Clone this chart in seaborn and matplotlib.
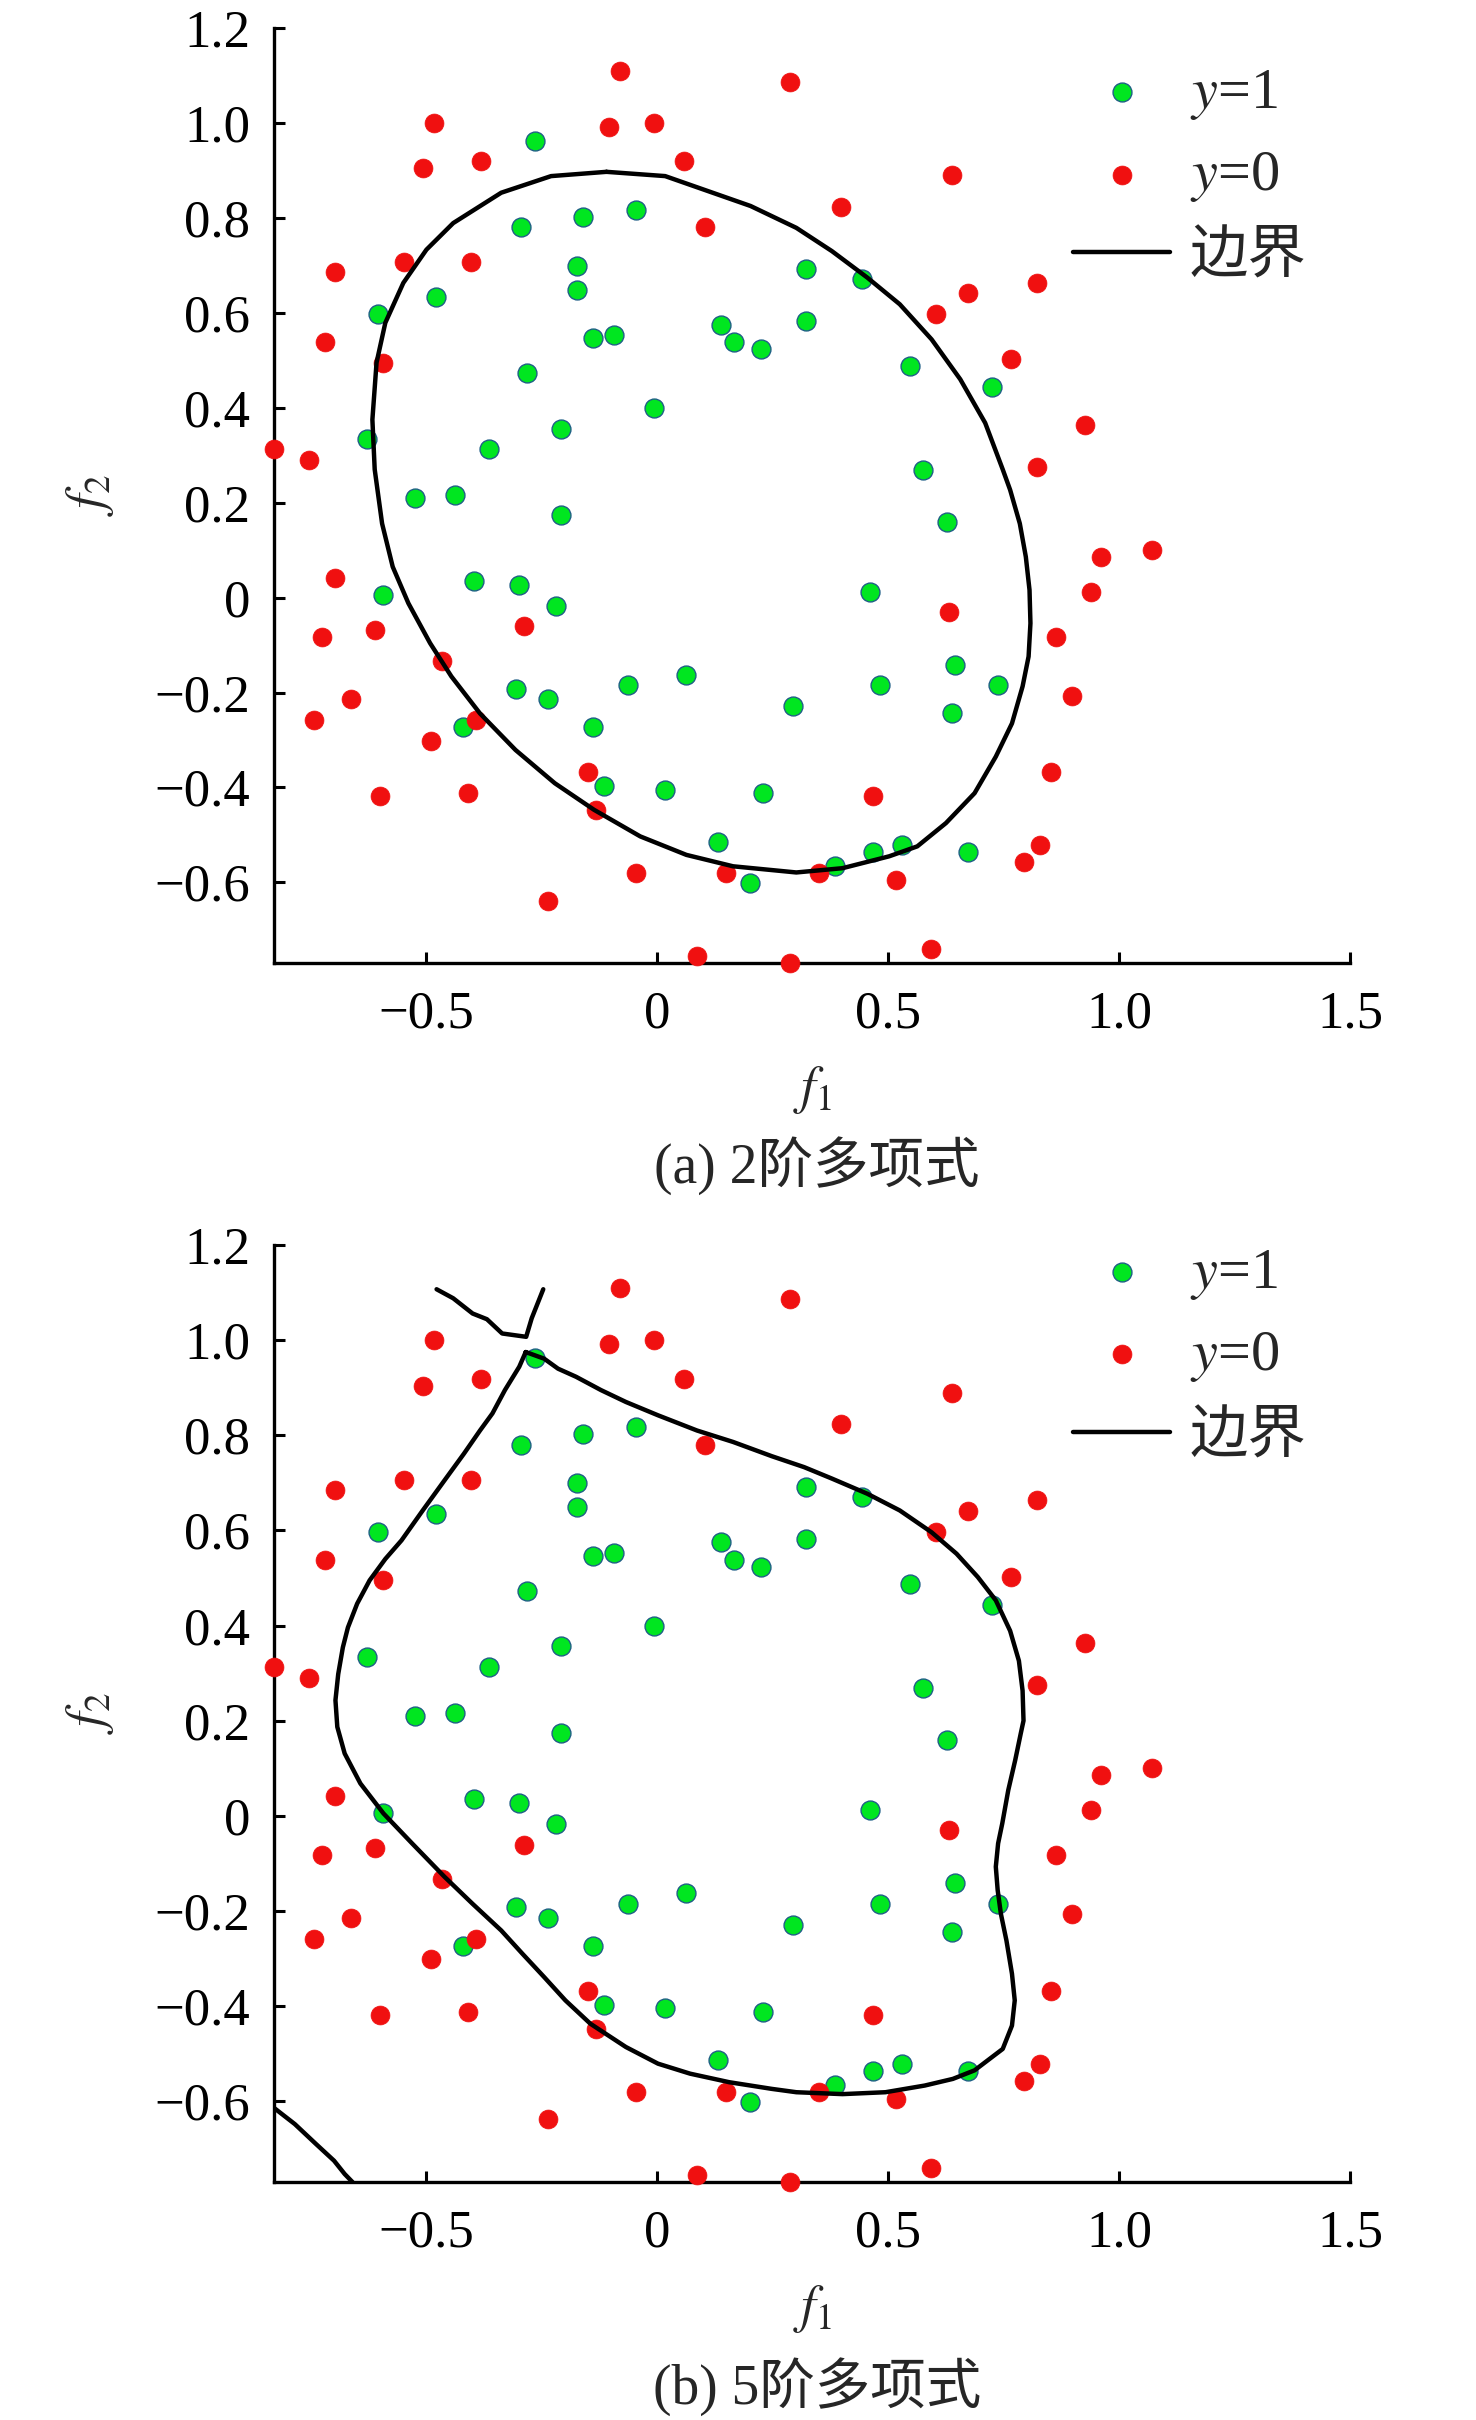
import matplotlib
matplotlib.use("Agg")
import matplotlib.pyplot as plt
import seaborn as sns

# ---------------- data ----------------
pos_f1 = [-0.26555, -0.29435, -0.16187, -0.046659, -0.17339, -0.17339, 0.322, -0.47869,
          -0.60541, 0.322, -0.13882, -0.092742, 0.13767, 0.16647, 0.22408, -0.28283,
          -0.0063364, -0.20795, -0.62846, -0.36348, -0.52477, -0.43836, 0.44297, 0.54666,
          0.72523, 0.57546, -0.20795, -0.59389, -0.39804, -0.30012, -0.21947, -0.30588,
          -0.23675, -0.06394, 0.062788, 0.2932, -0.42108, -0.13882, -0.11578, 0.016705,
          0.22984, 0.13191, 0.20104, 0.6273, 0.46025, 0.64459, 0.48329, 0.73675,
          0.63882, 0.46601, 0.52938, 0.67339, 0.38537]
pos_f2 = [0.96272, 0.77997, 0.8019, 0.81652, 0.69956, 0.64839, 0.69225, 0.63377,
          0.59722, 0.5826, 0.54605, 0.55336, 0.57529, 0.53874, 0.52412, 0.47295,
          0.39985, 0.35599, 0.33406, 0.31213, 0.2098, 0.21711, 0.67032, 0.48757,
          0.44371, 0.26827, 0.17325, 0.005117, 0.034357, 0.027047, -0.016813, -0.19225,
          -0.21418, -0.18494, -0.16301, -0.2288, -0.27266, -0.27266, -0.39693, -0.40424,
          -0.41155, -0.51389, -0.60161, 0.15863, 0.012427, -0.14108, -0.18494, -0.18494,
          -0.24342, -0.53582, -0.5212, -0.53582, -0.56506]

neg_f1 = [-0.081797, 0.28744, -0.48445, -0.10484, -0.0063364, -0.50749, -0.38076, 0.057028,
          0.10311, -0.54781, -0.4038, -0.69758, -0.72062, -0.59389, -0.83007, -0.75518,
          0.63882, 0.39689, 0.82316, 0.67339, 0.60426, 0.76555, 0.92684, 0.82316,
          -0.69758, -0.28859, -0.72638, -0.61118, -0.46717, -0.66302, -0.74366, -0.39228,
          -0.49021, -0.15035, -0.59965, -0.40956, -0.13306, -0.046659, 0.14919, -0.23675,
          0.085829, 0.28744, 0.35081, 0.96141, 1.0709, 0.93836, 0.63265, 0.86348,
          0.89804, 0.85196, 0.46601, 0.82892, 0.79435, 0.51786, 0.59274]
neg_f2 = [1.1089, 1.087, 0.99927, 0.99196, 0.99927, 0.90424, 0.91886, 0.91886,
          0.77997, 0.70687, 0.70687, 0.68494, 0.53874, 0.49488, 0.31213, 0.2902,
          0.88962, 0.82383, 0.66301, 0.64108, 0.59722, 0.50219, 0.3633, 0.27558,
          0.041667, -0.060673, -0.082602, -0.067982, -0.13377, -0.21418, -0.25804, -0.25804,
          -0.3019, -0.36769, -0.41886, -0.41155, -0.4481, -0.57968, -0.57968, -0.63816,
          -0.75512, -0.76974, -0.57968, 0.085526, 0.10015, 0.012427, -0.030612, -0.082602,
          -0.20687, -0.36769, -0.41886, -0.5212, -0.55775, -0.5943, -0.7405]

# decision boundary, degree 2
bd2_f1 = [-0.11, 0.017, 0.202, 0.301, 0.378, 0.455, 0.525, 0.594, 0.656, 0.71, 0.748,
          0.764, 0.785, 0.798, 0.806, 0.808, 0.804, 0.791, 0.768, 0.733, 0.687, 0.625,
          0.563, 0.502, 0.401, 0.301, 0.164, 0.063, -0.037, -0.137, -0.222, -0.307,
          -0.384, -0.446, -0.492, -0.539, -0.573, -0.596, -0.612, -0.617, -0.608, -0.589,
          -0.55, -0.5, -0.442, -0.338, -0.23, -0.11]
bd2_f2 = [0.897, 0.888, 0.825, 0.779, 0.73, 0.674, 0.618, 0.544, 0.46, 0.368, 0.27,
          0.227, 0.156, 0.086, 0.016, -0.054, -0.124, -0.187, -0.265, -0.335, -0.412, -0.475,
          -0.524, -0.545, -0.57, -0.579, -0.566, -0.542, -0.503, -0.447, -0.391, -0.321,
          -0.244, -0.166, -0.096, -0.012, 0.065, 0.156, 0.27, 0.375, 0.495, 0.579,
          0.663, 0.733, 0.789, 0.853, 0.888, 0.897]

# decision boundary, degree 5: main loop
bd5_f1 = [-0.285, -0.245, -0.215, -0.176, -0.122, -0.068, 0.0015, 0.086, 0.164, 0.248,
          0.318, 0.378, 0.455, 0.525, 0.594, 0.648, 0.694, 0.733, 0.764, 0.783, 0.791,
          0.793, 0.787, 0.775, 0.760, 0.747, 0.738, 0.733, 0.737, 0.744, 0.756, 0.768,
          0.774, 0.768, 0.748, 0.687, 0.64, 0.579, 0.494, 0.401, 0.301, 0.248, 0.156,
          0.071, 0.0015, -0.068, -0.145, -0.199, -0.245, -0.292, -0.338, -0.40, -0.461,
          -0.531, -0.593, -0.643, -0.677, -0.693, -0.697, -0.691, -0.681, -0.67, -0.65,
          -0.623, -0.589, -0.554, -0.508, -0.461, -0.419, -0.384, -0.357, -0.330, -0.299,
          -0.285]
bd5_f2 = [0.975, 0.961, 0.94, 0.923, 0.895, 0.87, 0.842, 0.81, 0.786, 0.756,
          0.733, 0.709, 0.677, 0.642, 0.596, 0.551, 0.502, 0.453, 0.389, 0.326, 0.263,
          0.2, 0.173, 0.117, 0.054, -0.016, -0.058, -0.107, -0.156, -0.206, -0.262, -0.332,
          -0.388, -0.441, -0.49, -0.535, -0.553, -0.567, -0.581, -0.585, -0.581, -0.574, -0.56,
          -0.542, -0.521, -0.486, -0.437, -0.388, -0.339, -0.29, -0.241, -0.185, -0.128,
          -0.058, 0.005, 0.068, 0.131, 0.187, 0.243, 0.298, 0.354, 0.396, 0.446,
          0.495, 0.54, 0.579, 0.642, 0.705, 0.761, 0.81, 0.846, 0.895, 0.944,
          0.975]
# degree 5: small piece at the top
bd5_top_f1 = [-0.478, -0.442, -0.4, -0.369, -0.336, -0.284, -0.272, -0.247]
bd5_top_f2 = [1.107, 1.088, 1.056, 1.044, 1.014, 1.007, 1.046, 1.107]
# degree 5: piece in the lower-left corner
bd5_cor_f1 = [-0.830, -0.785, -0.739, -0.70, -0.677, -0.66]
bd5_cor_f2 = [-0.614, -0.648, -0.69, -0.725, -0.753, -0.77]

x_ticks = [-0.5, 0, 0.5, 1.0, 1.5]
x_tick_labels = ["\u22120.5", "0", "0.5", "1.0", "1.5"]
y_ticks = [-0.6, -0.4, -0.2, 0, 0.2, 0.4, 0.6, 0.8, 1.0, 1.2]
y_tick_labels = ["\u22120.6", "\u22120.4", "\u22120.2", "0", "0.2", "0.4", "0.6", "0.8", "1.0", "1.2"]
legend_labels = ["$y$=1", "$y$=0", "边界"]
captions = ["(a) 2阶多项式", "(b) 5阶多项式"]
x_label = "$f_1$"
y_label = "$f_2$"

# ---------------- style ----------------
sns.set_theme(style="ticks")
plt.rcParams["font.family"] = ["Liberation Serif", "Noto Sans CJK SC"]
plt.rcParams["mathtext.fontset"] = "stix"
plt.rcParams["axes.unicode_minus"] = True

GREEN = "#00e620"
GREEN_EDGE = "#1f5f86"
RED = "#f01010"
FS = 38
LEG_FS = 42

fig = plt.figure(figsize=(14.76, 24.2), dpi=100)
W, H = 1476.0, 2420.0
ax_a = fig.add_axes([274 / W, 1 - 963 / H, 1076 / W, 935 / H])
ax_b = fig.add_axes([274 / W, 1 - 2182 / H, 1076 / W, 937 / H])

xmin = min(min(pos_f1), min(neg_f1))
ymin = min(min(pos_f2), min(neg_f2))


def draw_panel(ax, curves, legend_y, caption, caption_y):
    sns.scatterplot(x=pos_f1, y=pos_f2, ax=ax, color=GREEN, edgecolor=GREEN_EDGE,
                    linewidth=1.0, s=185, label=legend_labels[0], zorder=3, clip_on=False)
    sns.scatterplot(x=neg_f1, y=neg_f2, ax=ax, color=RED, edgecolor=RED,
                    linewidth=0.5, s=185, label=legend_labels[1], zorder=3, clip_on=False)
    for i, (cx, cy) in enumerate(curves):
        sns.lineplot(x=cx, y=cy, ax=ax, sort=False, estimator=None, color="black",
                     linewidth=3.2, zorder=4,
                     label=legend_labels[2] if i == 0 else "_nolegend_")
    ax.set_xlim(xmin, 1.5)
    ax.set_ylim(ymin, 1.2)
    ax.set_xticks(x_ticks)
    ax.set_xticklabels(x_tick_labels)
    ax.set_yticks(y_ticks)
    ax.set_yticklabels(y_tick_labels)
    for side in ["top", "right"]:
        ax.spines[side].set_visible(False)
    for side in ["left", "bottom"]:
        ax.spines[side].set_linewidth(2.4)
        ax.spines[side].set_color("black")
    ax.tick_params(axis="both", direction="in", length=8, width=2.2, color="black",
                   labelsize=FS, labelcolor="black")
    ax.tick_params(axis="x", pad=20)
    ax.tick_params(axis="y", pad=17)
    ax.set_xlabel(x_label, fontsize=FS)
    ax.set_ylabel(y_label, fontsize=FS, rotation=90)
    ax.xaxis.set_label_coords(0.5, -0.136)
    ax.xaxis.label.set_verticalalignment("center")
    ax.yaxis.set_label_coords(-0.171, 0.5)
    ax.yaxis.label.set_verticalalignment("center")
    ax.grid(False)
    handles, labels = ax.get_legend_handles_labels()
    ax.legend(handles, labels, loc="center left", bbox_to_anchor=(0.7426, legend_y),
              frameon=False, fontsize=LEG_FS, handlelength=1.67, handletextpad=0.33,
              labelspacing=0.47, borderpad=0, borderaxespad=0, scatterpoints=1)
    fig.text(0.5535, caption_y, caption, ha="center", va="center", fontsize=40)


draw_panel(ax_a, [(bd2_f1, bd2_f2)], 0.842, captions[0], 1 - 1166 / H)
draw_panel(ax_b, [(bd5_f1, bd5_f2), (bd5_top_f1, bd5_top_f2), (bd5_cor_f1, bd5_cor_f2)],
           0.882, captions[1], 1 - 2387 / H)

fig.savefig("out.png", dpi=100, facecolor="white")
